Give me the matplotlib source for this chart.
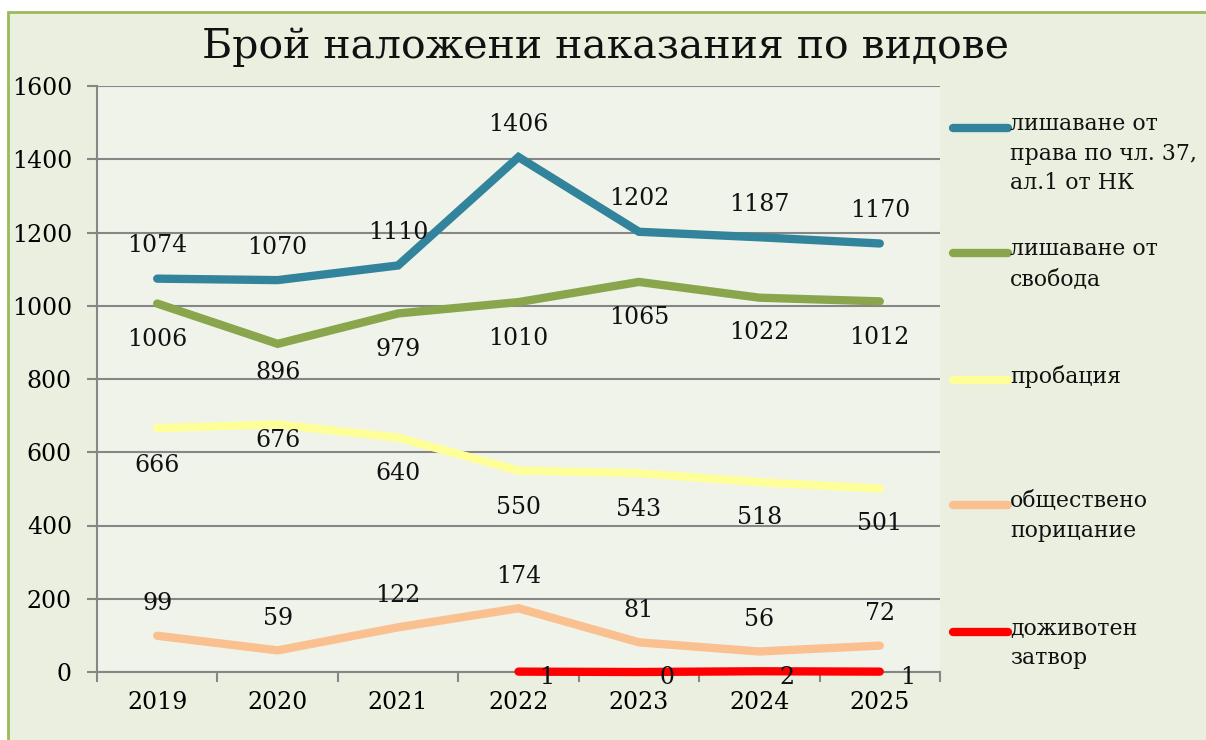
import matplotlib
matplotlib.use("Agg")
import matplotlib.pyplot as plt
from matplotlib.lines import Line2D
from matplotlib.patches import Rectangle

years = ["2019", "2020", "2021", "2022", "2023", "2024", "2025"]
rights = [1074, 1070, 1110, 1406, 1202, 1187, 1170]
prison = [1006, 896, 979, 1010, 1065, 1022, 1012]
probation = [666, 676, 640, 550, 543, 518, 501]
censure = [99, 59, 122, 174, 81, 56, 72]
life = [None, None, None, 1, 0, 2, 1]

labels = ["лишаване от\nправа по чл. 37,\nал.1 от НК",
          "лишаване от\nсвобода",
          "пробация",
          "обществено\nпорицание",
          "доживотен\nзатвор"]
colors = ["#31849b", "#8aa64c", "#ffff99", "#fac090", "#ff0000"]

FONT = "DejaVu Serif"
plt.rcParams["font.family"] = [FONT]
FS = 17

W, H = 1206, 740
fig = plt.figure(figsize=(W / 100, H / 100), dpi=100)
fig.patch.set_facecolor("white")

# chart area background + border (only top and left visible)
fig.add_artist(Rectangle((8 / W, -0.05), 1.2, (H - 12) / H + 0.05,
                         transform=fig.transFigure, facecolor="#ebefdf",
                         edgecolor="#9bbb59", linewidth=2, zorder=-10))

L, R, T, B = 97, 940, 86, 672
ax = fig.add_axes([L / W, (H - B) / H, (R - L) / W, (B - T) / H])
ax.set_facecolor("#f0f3ea")

x = list(range(len(years)))
series = [rights, prison, probation, censure, life]
# label offsets in pixels (dx, dy)
offsets = [
    [(0, 33)] * 7,
    [(0, -36), (0, -29), (0, -36), (0, -36), (0, -36), (0, -35), (0, -36)],
    [(0, -37), (0, -16), (0, -36), (0, -37), (0, -36), (0, -35), (0, -35)],
    [(0, 32)] * 7,
    [(28, -6)] * 7,
]

for vals, col, offs in zip(series, colors, offsets):
    xs = [i for i, v in zip(x, vals) if v is not None]
    ys = [v for v in vals if v is not None]
    ax.plot(xs, ys, color=col, lw=6, solid_capstyle="round",
            solid_joinstyle="miter", zorder=3, clip_on=False)
    for xi, yi in zip(xs, ys):
        dx, dy = offs[xi]
        ax.annotate(str(yi), (xi, yi), xytext=(dx, dy), textcoords="offset pixels",
                    ha="center", va="center", fontsize=FS, color="#111111",
                    zorder=5)

ax.set_xlim(-0.5, 6.5)
ax.set_ylim(0, 1600)
ax.set_yticks(range(0, 1601, 200))
ax.set_xticks(x)
ax.set_xticklabels(years)
ax.set_xticks([i - 0.5 for i in range(8)], minor=True)
ax.tick_params(axis="x", which="major", length=0, pad=14, labelsize=FS)
ax.tick_params(axis="x", which="minor", length=7, width=1.5, color="#868686")
ax.tick_params(axis="y", length=7, width=1.5, color="#868686", pad=11, labelsize=FS)
ax.grid(axis="y", color="#868686", lw=1.5, zorder=1)
for s in ["top", "right"]:
    ax.spines[s].set_visible(False)
for s in ["left", "bottom"]:
    ax.spines[s].set_color("#868686")
    ax.spines[s].set_linewidth(1.5)
ax.set_axisbelow(True)

fig.text(606 / W, 1 - 47 / H, "Брой наложени наказания по видове",
         ha="center", va="center", fontsize=29.5, color="#111111")

# legend (manual)
leg_y = [128, 253, 380, 505, 632]
for lab, col, yy in zip(labels, colors, leg_y):
    fig.add_artist(Line2D([953 / W, 1008 / W], [1 - yy / H, 1 - yy / H],
                          transform=fig.transFigure, color=col, lw=6,
                          solid_capstyle="round"))
    fig.text(1010 / W, 1 - (yy - 15) / H, lab, ha="left", va="top",
             fontsize=15.8, color="#111111", linespacing=1.45)

fig.savefig("out.png", dpi=100, facecolor=fig.get_facecolor())
